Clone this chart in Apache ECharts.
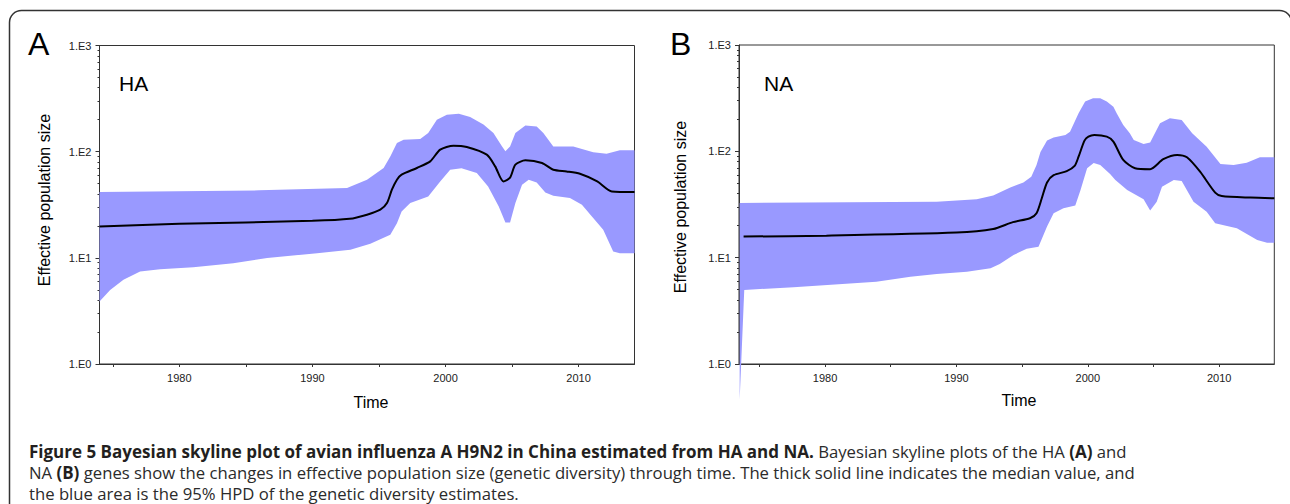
<!DOCTYPE html>
<html>
<head>
<meta charset="utf-8">
<script src="https://cdn.jsdelivr.net/npm/echarts@6/dist/echarts.min.js"></script>
<style>
html,body{margin:0;padding:0;background:#fff;}
#chart{width:1290px;height:504px;}
</style>
</head>
<body>
<div id="chart"></div>
<script>
// ---------- data ----------
const xLabelYears = [1980, 1990, 2000, 2010];
const xTickYears = [1975, 1980, 1985, 1990, 1995, 2000, 2005, 2010];
const yMajorValues = [1, 10, 100, 1000];
const yTickLabels = ['1.E0', '1.E1', '1.E2', '1.E3'];
const yMinorValues = [2,3,4,5,6,7,8,9,20,30,40,50,60,70,80,90,200,300,400,500,600,700,800,900];

// Panel A : HA
const haMedianYears = [1974, 1980, 1990, 1992.8, 1994.1, 1995.1, 1995.6, 1995.97, 1996.35, 1996.7, 1997.85, 1998.85, 1999.6, 2000.6, 2001.6, 2003.1, 2003.73, 2004.35, 2004.85, 2005.25, 2006, 2007.25, 2008.1, 2009.1, 2010.1, 2011.4, 2012.5, 2014.2];
const haMedianValues = [19.7, 20.9, 22.3, 23.3, 25.5, 28.4, 32.8, 43.8, 54.4, 60.7, 70.2, 81, 104.5, 114, 110.7, 93.7, 72.7, 52.5, 56.9, 75.4, 82.8, 78.2, 67.6, 65.2, 62, 52.5, 42.2, 41.7];
const haUpperYears = [1974, 1986, 1992.6, 1994.1, 1995.35, 1995.85, 1996.35, 1996.85, 1998.1, 1998.7, 1999.35, 2000.1, 2001, 2001.85, 2002.85, 2003.6, 2004.25, 2004.5, 2004.85, 2005.25, 2006, 2006.85, 2007.35, 2008.1, 2009.6, 2011.1, 2012.1, 2013.1, 2014.2];
const haUpperValues = [41.7, 43.2, 45.4, 54.4, 70.2, 90, 120.8, 129.8, 131.8, 150, 200, 223, 227, 212, 180, 150, 112, 101, 112, 150, 176, 173, 150, 112, 112, 98.5, 95.7, 103, 103];
const haLowerYears = [1974, 1974.8, 1975.8, 1977.05, 1978.55, 1981.05, 1984.05, 1986.6, 1990.35, 1992.85, 1994.35, 1995.85, 1996.35, 1996.7, 1997.35, 1998.7, 1999.6, 2000.35, 2001.2, 2002.35, 2003.2, 2004, 2004.5, 2004.85, 2005.25, 2005.75, 2006.25, 2006.85, 2007.5, 2008.1, 2009.35, 2010.25, 2011, 2011.85, 2012.6, 2013.1, 2014.2];
const haLowerValues = [3.87, 4.99, 6.2, 7.43, 7.82, 8.17, 8.91, 9.94, 11.07, 11.9, 13.55, 16.5, 21.2, 27.3, 32.8, 37.9, 52.5, 67.6, 69.9, 63, 47.1, 30.5, 21.5, 21.5, 32.8, 48.8, 54.4, 51.3, 41.3, 38.4, 36.6, 31.6, 24.5, 18.4, 11.5, 11.07, 11.07];

// Panel B : NA
const naMedianYears = [1973.8, 1980.1, 1990, 1992.8, 1994.3, 1995.6, 1996.1, 1996.5, 1996.9, 1997.4, 1998.4, 1999.0, 1999.3, 1999.75, 2000.05, 2000.5, 2001.45, 2001.95, 2002.7, 2003.6, 2004.75, 2005.75, 2006.8, 2007.55, 2008.55, 2009.7, 2010.2, 2012.4, 2014.2];
const naMedianValues = [15.8, 16.1, 17.2, 18.6, 21.6, 23.5, 26.2, 36.2, 51, 59.6, 65.1, 72.9, 89, 126, 137.5, 142.6, 137.4, 123.4, 83, 69.3, 67.9, 84.3, 92.6, 88, 64.4, 40.9, 38, 36.7, 36.2];
const naUpperYears = [1973.5, 1988.5, 1991.55, 1992.8, 1994.1, 1995.1, 1995.7, 1996.1, 1996.4, 1996.9, 1997.4, 1998.3, 1998.65, 1999.3, 1999.8, 2000.4, 2000.95, 2001.45, 2001.95, 2002.2, 2002.7, 2003.2, 2003.5, 2004.25, 2004.75, 2005.5, 2006.25, 2007.15, 2007.95, 2009.05, 2010.1, 2011.1, 2012.1, 2013.1, 2014.2];
const naUpperValues = [32.7, 33.6, 35.4, 38.5, 45.7, 50.8, 57.8, 74.5, 98.7, 126.7, 135, 142.6, 153, 228, 294, 316, 316, 294, 263, 228, 177, 148, 128, 117.4, 120.8, 184, 205, 197, 148, 110.7, 76.1, 74.5, 78.3, 88, 88];
const naLowerYears = [1973.5, 1973.85, 1977.6, 1983.9, 1986.5, 1988.5, 1990.8, 1992.6, 1993.3, 1994.35, 1995.35, 1996.25, 1996.9, 1997.4, 1998.15, 1999.05, 1999.45, 1999.95, 2000.45, 2000.95, 2001.7, 2002.1, 2003.0, 2004.25, 2004.75, 2005.25, 2005.65, 2006.55, 2007.15, 2008.05, 2009.05, 2009.7, 2010.6, 2011.35, 2012.9, 2013.65, 2014.2];
const naLowerValues = [0.46, 4.97, 5.27, 5.95, 6.62, 7.03, 7.38, 7.95, 8.73, 10.6, 12.1, 12.7, 19.6, 26.2, 29.2, 31, 43.3, 69.3, 77.8, 74.5, 61.3, 53.8, 43.4, 35.4, 27.7, 33.6, 46.5, 53.8, 52.7, 33.6, 27.1, 21.1, 19.9, 18.9, 14.7, 13.8, 13.8];

const captionLines = [
  [['b', 'Figure 5 Bayesian skyline plot of avian influenza A H9N2 in China estimated from HA and NA.'], ['r', ' Bayesian skyline plots of the HA '], ['b', '(A)'], ['r', ' and']],
  [['r', 'NA '], ['b', '(B)'], ['r', ' genes show the changes in effective population size (genetic diversity) through time. The thick solid line indicates the median value, and']],
  [['r', 'the blue area is the 95% HPD of the genetic diversity estimates.']]
];

// ---------- helpers ----------
function pairs(xs, ys) { return xs.map((x, i) => [x, ys[i]]); }
function bandPoints(uy, uv, ly, lv) {
  return pairs(uy, uv).concat(pairs(ly, lv).reverse());
}
const FONT = 'Liberation Sans, Arial, Helvetica, sans-serif';
const AXIS_COLOR = '#333';
const BAND_COLOR = '#9999ff';

function xAxisDef(gridIndex, min, max) {
  return {
    type: 'value', gridIndex: gridIndex, min: min, max: max,
    axisLine: { show: true, lineStyle: { color: AXIS_COLOR, width: 1 } },
    axisTick: { show: true, length: 3, inside: false, customValues: xTickYears, lineStyle: { color: AXIS_COLOR } },
    axisLabel: { show: true, customValues: xLabelYears, margin: 8, color: '#222', fontSize: 11, fontFamily: FONT, formatter: v => String(v) },
    splitLine: { show: false }
  };
}
function yAxisMajor(gridIndex) {
  return {
    type: 'log', logBase: 10, gridIndex: gridIndex, min: 1, max: 1000, position: 'left',
    axisLine: { show: true, lineStyle: { color: AXIS_COLOR, width: 1 } },
    axisTick: { show: true, length: 4, customValues: yMajorValues, lineStyle: { color: AXIS_COLOR } },
    axisLabel: { show: true, customValues: yMajorValues, margin: 8, color: '#222', fontSize: 11, fontFamily: FONT,
      formatter: v => { const i = yMajorValues.findIndex(m => Math.abs(m - v) < 1e-6 * m); return i >= 0 ? yTickLabels[i] : ''; } },
    splitLine: { show: false }
  };
}
function yAxisMinor(gridIndex) {
  return {
    type: 'log', logBase: 10, gridIndex: gridIndex, min: 1, max: 1000, position: 'left', offset: 0,
    axisLine: { show: false },
    axisTick: { show: true, length: 2, customValues: yMinorValues, lineStyle: { color: AXIS_COLOR } },
    axisLabel: { show: false },
    splitLine: { show: false }
  };
}
function bandSeries(xi, yi, pts) {
  return {
    type: 'custom', xAxisIndex: xi, yAxisIndex: yi, clip: false, z: 2,
    data: pts,
    renderItem: function (params, api) {
      if (params.dataIndex !== 0) return null;
      const n = params.dataInsideLength;
      const points = [];
      for (let i = 0; i < n; i++) {
        points.push(api.coord([api.value(0, i), api.value(1, i)]));
      }
      return { type: 'polygon', shape: { points: points }, style: { fill: BAND_COLOR, stroke: null } };
    },
    silent: true
  };
}
function medianSeries(xi, yi, pts) {
  return {
    type: 'line', xAxisIndex: xi, yAxisIndex: yi, data: pts, z: 3,
    showSymbol: false, symbol: 'none', smooth: 0.25,
    lineStyle: { color: '#000', width: 2 }, silent: true
  };
}
function captionText(line) {
  return line.map(s => '{' + s[0] + '|' + s[1] + '}').join('');
}
const CAP_FONT = 'Open Sans, Noto Sans, sans-serif';
const capRich = {
  b: { fontFamily: CAP_FONT, fontWeight: 'bold', fontSize: 17, lineHeight: 10, fill: '#231f20', color: '#231f20' },
  r: { fontFamily: CAP_FONT, fontWeight: 'normal', fontSize: 16.7, lineHeight: 10, fill: '#2b2b2b', color: '#2b2b2b' }
};
const capY = [451.5, 472.5, 493];

const chart = echarts.init(document.getElementById('chart'), null, { renderer: 'svg', width: 1290, height: 504 });
chart.setOption({
  animation: false,
  backgroundColor: '#fff',
  grid: [
    { left: 99.5, top: 45.5, width: 535, height: 318.5, show: true, borderColor: AXIS_COLOR, borderWidth: 1, containLabel: false },
    { left: 739, top: 45, width: 535.3, height: 319, show: true, borderColor: AXIS_COLOR, borderWidth: 1, containLabel: false }
  ],
  xAxis: [xAxisDef(0, 1974, 2014.2), xAxisDef(1, 1973.45, 2014.2)],
  yAxis: [yAxisMajor(0), yAxisMinor(0), yAxisMajor(1), yAxisMinor(1)],
  series: [
    bandSeries(0, 0, bandPoints(haUpperYears, haUpperValues, haLowerYears, haLowerValues)),
    medianSeries(0, 0, pairs(haMedianYears, haMedianValues)),
    bandSeries(1, 2, bandPoints(naUpperYears, naUpperValues, naLowerYears, naLowerValues)),
    medianSeries(1, 2, pairs(naMedianYears, naMedianValues))
  ],
  graphic: [
    { type: 'rect', shape: { x: 9.5, y: 10.5, width: 1282, height: 700, r: 12 },
      style: { fill: null, stroke: '#333', lineWidth: 1.5 }, silent: true },
    { type: 'text', x: 28, y: 44, style: { text: 'A', font: '32px ' + FONT, fill: '#000', align: 'left', verticalAlign: 'middle' } },
    { type: 'text', x: 670, y: 44, style: { text: 'B', font: '32px ' + FONT, fill: '#000', align: 'left', verticalAlign: 'middle' } },
    { type: 'text', x: 119, y: 83, style: { text: 'HA', font: '21px ' + FONT, fill: '#000', align: 'left', verticalAlign: 'middle' } },
    { type: 'text', x: 764, y: 83, style: { text: 'NA', font: '21px ' + FONT, fill: '#000', align: 'left', verticalAlign: 'middle' } },
    { type: 'text', x: 371, y: 402, style: { text: 'Time', font: '16px ' + FONT, fill: '#000', align: 'center', verticalAlign: 'middle' } },
    { type: 'text', x: 1019, y: 400, style: { text: 'Time', font: '16px ' + FONT, fill: '#000', align: 'center', verticalAlign: 'middle' } },
    { type: 'text', x: 44, y: 200, rotation: Math.PI / 2, style: { text: 'Effective population size', font: '16px ' + FONT, fill: '#000', align: 'center', verticalAlign: 'middle' } },
    { type: 'text', x: 680, y: 207, rotation: Math.PI / 2, style: { text: 'Effective population size', font: '16px ' + FONT, fill: '#000', align: 'center', verticalAlign: 'middle' } },
    { type: 'text', x: 29, y: capY[0], style: { text: captionText(captionLines[0]), rich: capRich, align: 'left', verticalAlign: 'middle' } },
    { type: 'text', x: 29, y: capY[1], style: { text: captionText(captionLines[1]), rich: capRich, align: 'left', verticalAlign: 'middle' } },
    { type: 'text', x: 29, y: capY[2], style: { text: captionText(captionLines[2]), rich: capRich, align: 'left', verticalAlign: 'middle' } }
  ]
});
</script>
</body>
</html>
